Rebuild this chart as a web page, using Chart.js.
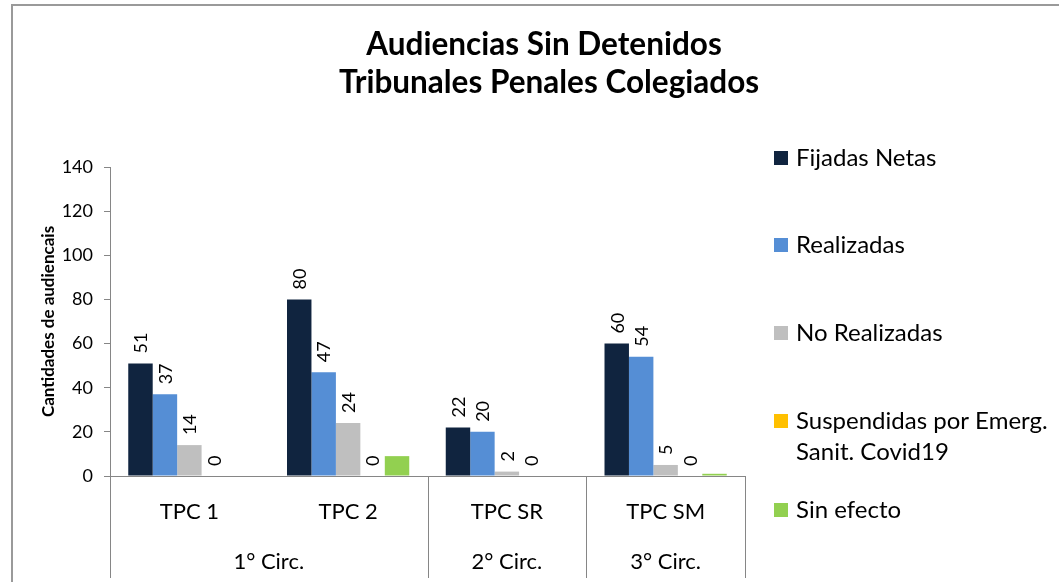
<!DOCTYPE html>
<html>
<head>
<meta charset="utf-8">
<script src="https://cdn.jsdelivr.net/npm/chart.js@4.4.1/dist/chart.umd.min.js"></script>
<style>
  html, body { margin: 0; padding: 0; background: #fff; }
  #wrap { width: 1059px; height: 582px; }
</style>
</head>
<body>
<div id="wrap"><canvas id="chart" width="1059" height="582"></canvas></div>
<script>
const categories = ['TPC 1', 'TPC 2', 'TPC SR', 'TPC SM'];
const circuits = [
  { label: '1° Circ.', from: 0, to: 1 },
  { label: '2° Circ.', from: 2, to: 2 },
  { label: '3° Circ.', from: 3, to: 3 }
];
const seriesNames = ['Fijadas Netas', 'Realizadas', 'No Realizadas', ['Suspendidas por Emerg.', 'Sanit. Covid19'], 'Sin efecto'];
const fijadasNetas = [51, 80, 22, 60];
const realizadas = [37, 47, 20, 54];
const noRealizadas = [14, 24, 2, 5];
const suspendidas = [0, 0, 0, 0];
const sinEfecto = [0, 9, 0, 1];
const yTicks = [0, 20, 40, 60, 80, 100, 120, 140];

const colors = ['#10243F', '#558ED5', '#BFBFBF', '#FFC000', '#92D050'];
const FONT = 'Lato, "Open Sans", sans-serif';

// series that get a rotated value label above the bar
const labelled = [true, true, true, true, false];

const extras = {
  id: 'extras',
  afterDraw(chart) {
    const ctx = chart.ctx;
    const area = chart.chartArea;
    const x = chart.scales.x;
    ctx.save();

    // outer frame (only top and left edges are visible)
    ctx.strokeStyle = '#9a9a9a';
    ctx.lineWidth = 2;
    ctx.beginPath();
    ctx.moveTo(12, 582);
    ctx.lineTo(12, 5);
    ctx.lineTo(1059, 5);
    ctx.stroke();

    // title
    ctx.fillStyle = '#000';
    ctx.font = 'bold 31.5px ' + FONT;
    ctx.textAlign = 'center';
    ctx.textBaseline = 'middle';
    ctx.fillText('Audiencias Sin Detenidos', 544, 45);
    ctx.fillText('Tribunales Penales Colegiados', 549, 83);

    // separators of the category groups below the axis
    const half = (x.getPixelForValue(1) - x.getPixelForValue(0)) / 2;
    ctx.strokeStyle = '#868686';
    ctx.lineWidth = 1;
    const edges = [x.getPixelForValue(0) - half];
    circuits.forEach(c => edges.push(x.getPixelForValue(c.to) + half));
    edges.forEach(px => {
      ctx.beginPath();
      ctx.moveTo(Math.round(px) + 0.5, area.bottom);
      ctx.lineTo(Math.round(px) + 0.5, 578);
      ctx.stroke();
    });

    // second level labels
    ctx.fillStyle = '#000';
    ctx.font = '22px ' + FONT;
    circuits.forEach(c => {
      const cx = (x.getPixelForValue(c.from) + x.getPixelForValue(c.to)) / 2;
      ctx.fillText(c.label, cx, 562);
    });

    // value labels, rotated
    ctx.font = '18px ' + FONT;
    ctx.textAlign = 'left';
    ctx.textBaseline = 'middle';
    chart.data.datasets.forEach((ds, i) => {
      if (!labelled[i]) return;
      chart.getDatasetMeta(i).data.forEach((bar, j) => {
        ctx.save();
        ctx.translate(bar.x, bar.y - 10);
        ctx.rotate(-Math.PI / 2);
        ctx.fillText(String(ds.data[j]), 0, 1);
        ctx.restore();
      });
    });

    // legend
    const rows = [158, 245, 333, 421, 510];
    ctx.font = '24px ' + FONT;
    chart.data.datasets.forEach((ds, i) => {
      ctx.fillStyle = ds.backgroundColor;
      ctx.fillRect(774, rows[i] - 7, 14, 14);
      ctx.fillStyle = '#000';
      const lines = Array.isArray(seriesNames[i]) ? seriesNames[i] : [seriesNames[i]];
      lines.forEach((t, k) => ctx.fillText(t, 796, rows[i] + k * 31));
    });

    ctx.restore();
  }
};

const series = [fijadasNetas, realizadas, noRealizadas, suspendidas, sinEfecto];

new Chart(document.getElementById('chart'), {
  type: 'bar',
  data: {
    labels: categories,
    datasets: series.map((d, i) => ({
      label: Array.isArray(seriesNames[i]) ? seriesNames[i].join(' ') : seriesNames[i],
      data: d,
      backgroundColor: colors[i],
      borderWidth: 0,
      categoryPercentage: 0.77,
      barPercentage: 1.0
    }))
  },
  options: {
    responsive: false,
    animation: false,
    layout: { padding: { left: 0, top: 167, right: 314, bottom: 0 } },
    plugins: {
      legend: { display: false },
      title: { display: false },
      tooltip: { enabled: false }
    },
    scales: {
      x: {
        afterFit(scale) { scale.height = 106; },
        grid: { display: false },
        border: { display: true, color: '#868686', width: 1 },
        ticks: { color: '#000', font: { family: FONT, size: 22 }, padding: 15, maxRotation: 0 }
      },
      y: {
        min: 0,
        max: 140,
        afterFit(scale) { scale.width = 110; },
        afterBuildTicks(scale) { scale.ticks = yTicks.map(v => ({ value: v })); },
        grid: { drawOnChartArea: false, drawTicks: true, tickLength: 6, color: '#868686' },
        border: { display: true, color: '#868686', width: 1 },
        ticks: { color: '#000', font: { family: FONT, size: 18 }, padding: 11 },
        title: {
          display: true,
          text: 'Cantidades de audiencais',
          color: '#000',
          font: { family: FONT, size: 17, weight: 'bold' },
          padding: { top: 38, bottom: 0 }
        }
      }
    }
  },
  plugins: [extras]
});
</script>
</body>
</html>
